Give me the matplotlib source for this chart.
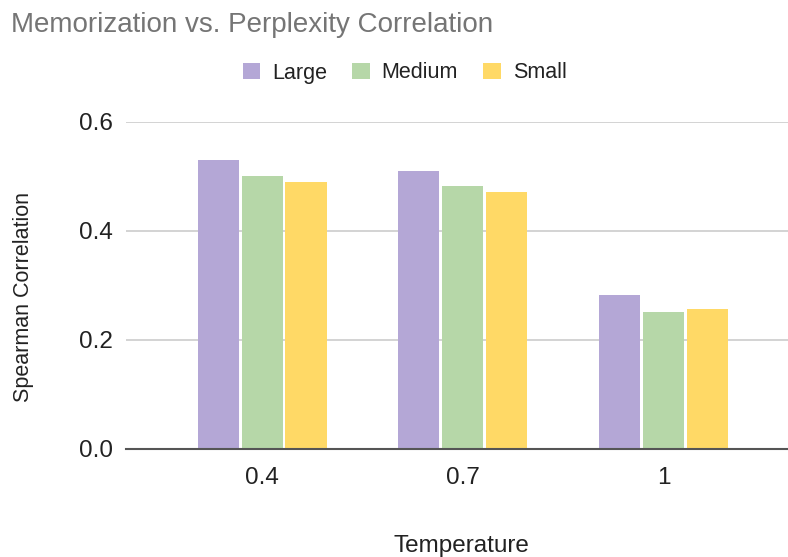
import matplotlib
matplotlib.use("Agg")
import matplotlib.pyplot as plt
from matplotlib.patches import Patch
import numpy as np

plt.rcParams['font.family'] = ['Liberation Sans', 'DejaVu Sans']

temperatures = ["0.4", "0.7", "1"]
series_names = ["Large", "Medium", "Small"]
large = [0.53, 0.51, 0.283]
medium = [0.50, 0.482, 0.251]
small = [0.49, 0.471, 0.256]
colors = ["#b4a7d6", "#b6d7a8", "#ffd966"]
yticks = [0.0, 0.2, 0.4, 0.6]
ytick_labels = ["0.0", "0.2", "0.4", "0.6"]

W, H = 788, 557
fig = plt.figure(figsize=(W / 100, H / 100), dpi=100)
ax_left, ax_right = 126, 788
ax_bottom, ax_top = 448.7, 122
ax = fig.add_axes([ax_left / W, 1 - ax_bottom / H, (ax_right - ax_left) / W, (ax_bottom - ax_top) / H])

x = np.arange(len(temperatures))
bw = 0.205
off = 0.219
for i, (vals, c) in enumerate(zip([large, medium, small], colors)):
    ax.bar(x + (i - 1) * off, vals, width=bw, color=c, edgecolor='none', zorder=3)

ax.set_ylim(0, 0.6)
ax.set_xlim(-0.678, 2.62)
ax.set_yticks(yticks)
ax.set_yticklabels(ytick_labels)
ax.set_xticks(x)
ax.set_xticklabels(temperatures)
ax.tick_params(axis='both', length=0, labelsize=17.5, labelcolor='#222222')
ax.tick_params(axis='y', pad=9.4)
ax.tick_params(axis='x', pad=13.5)
ax.grid(axis='y', color='#cccccc', linewidth=1.2, zorder=0)
ax.set_axisbelow(True)
for s in ['top', 'right', 'left']:
    ax.spines[s].set_visible(False)
ax.spines['bottom'].set_color('#555555')
ax.spines['bottom'].set_linewidth(1.5)
ax.spines['bottom'].set_zorder(4)

fig.text(11 / W, 1 - 32.3 / H, "Memorization vs. Perplexity Correlation", fontsize=20,
         color='#757575', ha='left', va='baseline')
fig.text(24 / W, 1 - 297.5 / H, "Spearman Correlation", fontsize=15.5, color='#222222',
         rotation=90, ha='center', va='center')
fig.text(461.7 / W, 1 - 552 / H, "Temperature", fontsize=17.5, color='#222222',
         ha='center', va='baseline')

handles = [Patch(facecolor=c, edgecolor='none', label=n) for n, c in zip(series_names, colors)]
fig.legend(handles=handles, loc='center', bbox_to_anchor=(404.5 / W, 1 - 73 / H), ncol=3,
           frameon=False, fontsize=15.5, handlelength=0.82, handleheight=0.82,
           handletextpad=0.56, columnspacing=1.15, labelcolor='#222222')

fig.savefig("out.png", dpi=100)
